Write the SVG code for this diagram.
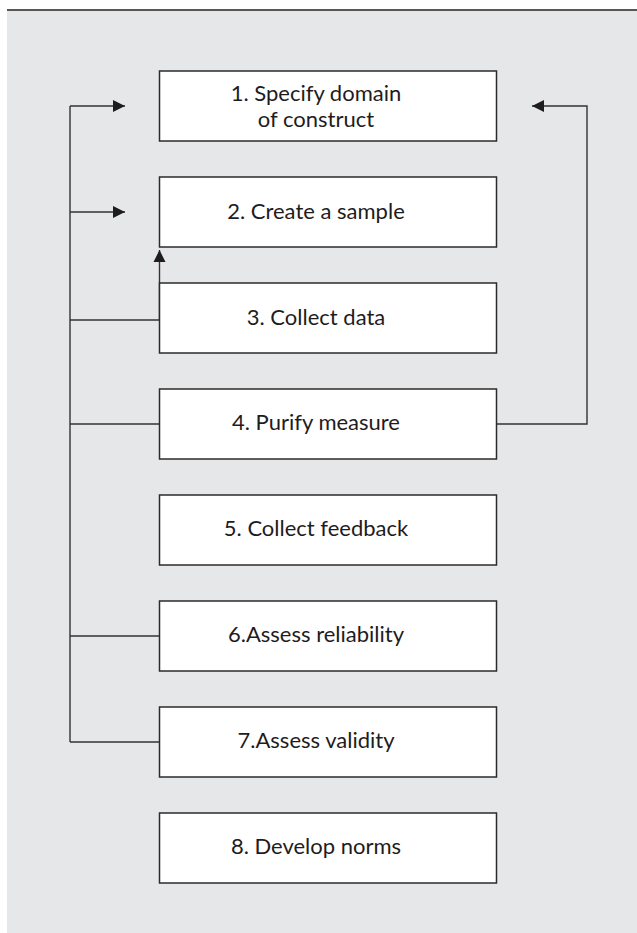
<svg xmlns="http://www.w3.org/2000/svg" width="637" height="933" viewBox="0 0 637 933">
  <style>
    .box { fill: #ffffff; stroke: #2b2b2b; stroke-width: 1.5; }
    .lbl { font-family: Lato, "Liberation Sans", sans-serif; font-size: 22px; fill: #1f1c1d; text-anchor: middle; }
    .wire { fill: none; stroke: #333333; stroke-width: 1.4; }
  </style>
  <defs>
    <marker id="arrow" markerUnits="userSpaceOnUse" markerWidth="13" markerHeight="13" refX="12" refY="6.5" orient="auto">
      <path d="M0,0.5 L12,6.5 L0,12.5 z" fill="#1f1c1d"/>
    </marker>
  </defs>

  <!-- panel -->
  <rect x="7" y="10.5" width="630" height="923" fill="#e6e7e9"/>
  <line x1="7" y1="10" x2="637" y2="10" stroke="#231f20" stroke-width="1.6"/>

  <!-- connectors -->
  <g id="connectors">
    <path class="wire" d="M70,742 V106"/>
    <path class="wire" d="M70,106 H125" marker-end="url(#arrow)"/>
    <path class="wire" d="M70,212 H125" marker-end="url(#arrow)"/>
    <path class="wire" d="M159.5,320 H70"/>
    <path class="wire" d="M159.5,320 V250" marker-end="url(#arrow)"/>
    <path class="wire" d="M159.5,424 H70"/>
    <path class="wire" d="M159.5,636 H70"/>
    <path class="wire" d="M159.5,742 H70"/>
    <path class="wire" d="M496.5,424 H587 V106 H532" marker-end="url(#arrow)"/>
  </g>

  <!-- steps -->
  <g id="step1">
    <rect class="box" x="159.5" y="71" width="337" height="70"/>
    <text class="lbl" x="316" y="100.5">1. Specify domain</text>
    <text class="lbl" x="316" y="126.5">of construct</text>
  </g>
  <g id="step2">
    <rect class="box" x="159.5" y="177" width="337" height="70"/>
    <text class="lbl" x="316" y="218.5">2. Create a sample</text>
  </g>
  <g id="step3">
    <rect class="box" x="159.5" y="283" width="337" height="70"/>
    <text class="lbl" x="316" y="324.5">3. Collect data</text>
  </g>
  <g id="step4">
    <rect class="box" x="159.5" y="389" width="337" height="70"/>
    <text class="lbl" x="316" y="430">4. Purify measure</text>
  </g>
  <g id="step5">
    <rect class="box" x="159.5" y="495" width="337" height="70"/>
    <text class="lbl" x="316" y="536">5. Collect feedback</text>
  </g>
  <g id="step6">
    <rect class="box" x="159.5" y="601" width="337" height="70"/>
    <text class="lbl" x="316" y="642">6.Assess reliability</text>
  </g>
  <g id="step7">
    <rect class="box" x="159.5" y="707" width="337" height="70"/>
    <text class="lbl" x="316" y="748">7.Assess validity</text>
  </g>
  <g id="step8">
    <rect class="box" x="159.5" y="813" width="337" height="70"/>
    <text class="lbl" x="316" y="854">8. Develop norms</text>
  </g>
</svg>
